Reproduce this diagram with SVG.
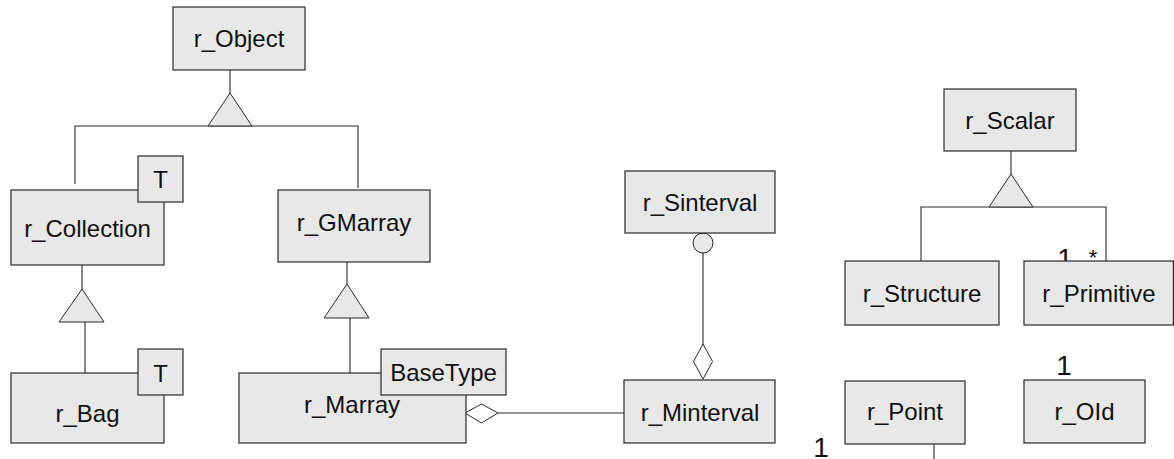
<svg xmlns="http://www.w3.org/2000/svg" width="1174" height="459" viewBox="0 0 1174 459">
<style>
.box{fill:#e8e8e8;stroke:#2a2a2a;stroke-width:1.2}
.tri{fill:#e8e8e8;stroke:#2a2a2a;stroke-width:1}
.ln{fill:none;stroke:#2a2a2a;stroke-width:1.1}
.dia{fill:#ffffff;stroke:#2a2a2a;stroke-width:1}
.t{font-family:"Liberation Sans",Arial,sans-serif;font-size:24px;fill:#111;text-anchor:middle}
.m{font-family:"Liberation Sans",Arial,sans-serif;font-size:28px;fill:#111;text-anchor:middle}
.s{font-family:"Liberation Sans",Arial,sans-serif;font-size:22px;fill:#111;text-anchor:middle}
</style>
<rect width="1174" height="459" fill="#ffffff"/>
<g id="connectors">
  <line class="ln" x1="230" y1="70" x2="230" y2="93"/>
  <polyline class="ln" points="75,184 75,126 358,126 358,188"/>
  <polygon class="tri" points="230,93 208,126 252,126"/>
  <line class="ln" x1="82" y1="265" x2="82" y2="289"/>
  <polygon class="tri" points="82,289 59,322 104,322"/>
  <line class="ln" x1="85" y1="322" x2="85" y2="373"/>
  <line class="ln" x1="347" y1="262" x2="347" y2="284"/>
  <polygon class="tri" points="347,284 324,318 369,318"/>
  <line class="ln" x1="350" y1="318" x2="350" y2="373"/>
  <line class="ln" x1="498" y1="413" x2="624" y2="413"/>
  <polygon class="dia" points="465,413 481.5,404 498,413 481.5,423"/>
  <circle class="tri" cx="703" cy="243" r="10"/>
  <line class="ln" x1="703" y1="253" x2="703" y2="344"/>
  <polygon class="dia" points="703,344 712.5,361.5 703,379 693.5,361.5"/>
  <line class="ln" x1="1011" y1="151" x2="1011" y2="174"/>
  <polyline class="ln" points="921,266 921,207 1106,207 1106,261"/>
  <polygon class="tri" points="1011,174 989,207 1033,207"/>
  <line class="ln" x1="934" y1="444" x2="934" y2="459"/>
  <text class="m" x="1065" y="268">1</text>
  <text class="s" x="1093" y="265">*</text>
  <text class="m" x="1064" y="375">1</text>
  <text class="m" x="821" y="457">1</text>
</g>
<g id="r_Object">
  <rect class="box" x="173" y="7" width="132" height="63"/>
  <text class="t" x="239" y="47">r_Object</text>
</g>
<g id="r_Collection">
  <rect class="box" x="11" y="190" width="153" height="75"/>
  <text class="t" x="87.5" y="237">r_Collection</text>
  <rect class="box" x="138" y="156" width="45" height="46"/>
  <text class="t" x="160.5" y="188">T</text>
</g>
<g id="r_GMarray">
  <rect class="box" x="278" y="190" width="152" height="72"/>
  <text class="t" x="354" y="231">r_GMarray</text>
</g>
<g id="r_Bag">
  <rect class="box" x="11" y="373" width="153" height="70"/>
  <text class="t" x="87.5" y="422">r_Bag</text>
  <rect class="box" x="138" y="349" width="45" height="46"/>
  <text class="t" x="160.5" y="382">T</text>
</g>
<g id="r_Marray">
  <rect class="box" x="239" y="373" width="227" height="70"/>
  <text class="t" x="352" y="413">r_Marray</text>
  <rect class="box" x="381" y="349" width="125" height="46"/>
  <text class="t" x="443.5" y="381">BaseType</text>
</g>
<g id="r_Sinterval">
  <rect class="box" x="625" y="171" width="150" height="62"/>
  <text class="t" x="700" y="211">r_Sinterval</text>
</g>
<g id="r_Minterval">
  <rect class="box" x="624" y="380" width="151" height="63"/>
  <text class="t" x="700" y="421">r_Minterval</text>
</g>
<g id="r_Scalar">
  <rect class="box" x="944" y="89" width="132" height="62"/>
  <text class="t" x="1010" y="129">r_Scalar</text>
</g>
<g id="r_Structure">
  <rect class="box" x="845" y="261" width="154" height="64"/>
  <text class="t" x="922" y="302">r_Structure</text>
</g>
<g id="r_Primitive">
  <rect class="box" x="1024" y="261" width="149.4" height="64"/>
  <text class="t" x="1099" y="302">r_Primitive</text>
</g>
<g id="r_Point">
  <rect class="box" x="845" y="381" width="120" height="63"/>
  <text class="t" x="905" y="420">r_Point</text>
</g>
<g id="r_OId">
  <rect class="box" x="1024" y="380" width="121" height="63"/>
  <text class="t" x="1084.5" y="420">r_OId</text>
</g>
</svg>
